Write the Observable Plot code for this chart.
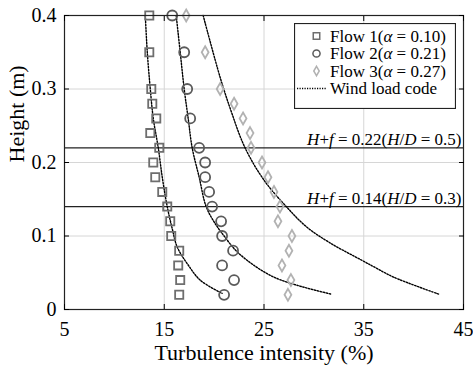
<!DOCTYPE html>
<html>
<head>
<meta charset="utf-8">
<script src="https://cdn.jsdelivr.net/npm/d3@7"></script>
<script src="https://cdn.jsdelivr.net/npm/@observablehq/plot@0.6"></script>
<style>
  body { margin: 0; background: #fff; }
  #chart { position: relative; width: 473px; height: 367px; }
  #legend { position: absolute; left: 294px; top: 23px; }
</style>
</head>
<body>
<div id="chart"></div>
<script>
// Axis ticks and grid positions
const xTicks = [5, 15, 25, 35, 45];
const yTicks = [0, 0.1, 0.2, 0.3, 0.4];
const xGrid = [15, 25, 35];
const yGrid = [0.1, 0.2, 0.3];

// Measured turbulence intensity profiles (%), by height (m)
const flow1Heights = [0.40, 0.35, 0.30, 0.28, 0.26, 0.24, 0.22, 0.20, 0.18, 0.16, 0.14, 0.12, 0.10, 0.08, 0.06, 0.04, 0.02];
const flow1Values  = [13.5, 13.5, 13.7, 13.8, 14.2, 13.6, 14.5, 13.9, 14.1, 14.8, 15.3, 15.6, 15.7, 16.5, 16.4, 16.6, 16.5];

const flow2Heights = [0.40, 0.35, 0.30, 0.26, 0.22, 0.20, 0.18, 0.16, 0.14, 0.12, 0.10, 0.08, 0.06, 0.04, 0.02];
const flow2Values  = [15.8, 17.0, 17.3, 17.6, 18.5, 19.1, 19.1, 19.5, 19.8, 20.7, 20.8, 21.9, 20.8, 22.0, 21.0];

const flow3Heights = [0.40, 0.35, 0.30, 0.28, 0.26, 0.24, 0.22, 0.20, 0.18, 0.16, 0.14, 0.12, 0.10, 0.08, 0.06, 0.04, 0.02];
const flow3Values  = [17.2, 19.1, 20.6, 22.0, 22.9, 23.6, 23.7, 24.8, 25.4, 26.0, 26.6, 26.4, 27.8, 27.5, 26.8, 27.7, 27.4];

// Wind load code profiles
const code1Heights = [0.40, 0.35, 0.30, 0.26, 0.22, 0.18, 0.14, 0.11, 0.085, 0.0625, 0.04, 0.022];
const code1Values  = [13.1, 13.3, 13.6, 13.9, 14.4, 14.8, 15.3, 15.8, 16.3, 17.3, 18.6, 20.8];

const code2Heights = [0.40, 0.35, 0.30, 0.26, 0.22, 0.18, 0.14, 0.117, 0.10, 0.08, 0.06, 0.044, 0.033, 0.021];
const code2Values  = [16.2, 16.6, 17.0, 17.4, 17.8, 18.5, 19.2, 20.1, 21.0, 22.2, 24.0, 26.0, 28.3, 31.7];

const code3Heights = [0.40, 0.316, 0.27, 0.22, 0.176, 0.139, 0.112, 0.09, 0.067, 0.056, 0.044, 0.021];
const code3Values  = [18.9, 20.6, 21.7, 23.1, 25.0, 27.3, 29.3, 31.7, 34.8, 36.3, 38.0, 42.5];

// Series labels
const seriesNames = ["Flow 1", "Flow 2", "Flow 3"];
const seriesAlphas = ["0.10", "0.21", "0.27"];
const codeName = "Wind load code";

// Reference levels H+f and their H/D ratios
const refLevels = [0.22, 0.14];
const refRatios = ["0.5", "0.3"];

const xLabel = "Turbulence intensity (%)";
const yLabel = "Height (m)";

const face = "Liberation Serif";
const colors = ["#6e6e6e", "#5a5a5a", "#b2b2b2"];
const symbols = ["square", "circle", "diamond"];
const radii = [4.6, 5.0, 3.6];
const dots = "1.5,1.5";

const toRows = (hs, vs, s) => hs.map((h, i) => ({h, v: vs[i], s}));
const flows = [
  toRows(flow1Heights, flow1Values, 0),
  toRows(flow2Heights, flow2Values, 1),
  toRows(flow3Heights, flow3Values, 2)
];
const codeRows = [
  ...toRows(code1Heights, code1Values, "c1"),
  ...toRows(code2Heights, code2Values, "c2"),
  ...toRows(code3Heights, code3Values, "c3")
];
const refRows = refLevels.map((h, i) => ({h, label: `H+f = ${h.toFixed(2)}(H/D = ${refRatios[i]})`}));

const plot = Plot.plot({
  width: 473,
  height: 367,
  marginLeft: 64,
  marginRight: 10,
  marginTop: 15,
  marginBottom: 58,
  style: {fontFamily: face, fontSize: "20px"},
  x: {domain: [5, 45]},
  y: {domain: [0, 0.4]},
  marks: [
    Plot.ruleX(xGrid, {stroke: "#d6d6d6", strokeWidth: 1}),
    Plot.ruleY(yGrid, {stroke: "#d6d6d6", strokeWidth: 1}),
    Plot.ruleY(refLevels, {stroke: "#222", strokeWidth: 1.2}),
    Plot.line(codeRows, {
      x: "v", y: "h", z: "s", stroke: "#000", strokeWidth: 1.4,
      strokeDasharray: dots, curve: "catmull-rom"
    }),
    ...flows.map((rows, i) => Plot.dot(rows, {
      x: "v", y: "h", symbol: () => symbols[i], r: radii[i],
      stroke: colors[i], strokeWidth: 1.8, fill: "none"
    })),
    Plot.text(refRows, {
      x: () => 45, y: "h", text: "label", textAnchor: "end", lineAnchor: "bottom",
      dx: -2, dy: -3, fontSize: 17, fontFamily: face
    }),
    Plot.frame({stroke: "#222", strokeWidth: 1.2}),
    Plot.axisX(xTicks, {anchor: "bottom", tickSize: -5, tickPadding: 17, tickFormat: d => String(d), label: null, fontFamily: face}),
    Plot.axisX(xTicks, {anchor: "top", tickSize: -5, tickFormat: () => "", label: null}),
    Plot.axisY(yTicks, {anchor: "left", tickSize: -5, tickPadding: 13, tickFormat: d => String(d), label: null, fontFamily: face}),
    Plot.axisY(yTicks, {anchor: "right", tickSize: -5, tickFormat: () => "", label: null}),
    Plot.text([xLabel], {frameAnchor: "bottom", text: d => d, dy: 43, lineAnchor: "middle", fontSize: 22, fontFamily: face}),
    Plot.text([yLabel], {frameAnchor: "left", text: d => d, dx: -48, rotate: -90, lineAnchor: "middle", fontSize: 22, fontFamily: face})
  ]
});

// Italicize the variable names in the reference-level labels
d3.select(plot).selectAll("text").each(function () {
  const t = this.textContent;
  if (!t.startsWith("H+f")) return;
  const sel = d3.select(this);
  sel.text(null);
  t.split(/([HfD])/).filter(p => p.length).forEach(p => {
    sel.append("tspan").attr("font-style", /^[HfD]$/.test(p) ? "italic" : null).text(p);
  });
});

const chart = document.getElementById("chart");
chart.appendChild(plot);

// Legend box inside the plot area
const lw = 161, lh = 85, rowH = 17.5, row0 = 13;
const legend = d3.create("svg")
  .attr("id", "legend")
  .attr("width", lw + 1)
  .attr("height", lh + 1)
  .attr("font-family", face)
  .attr("font-size", 17);
legend.append("rect")
  .attr("x", 0.5).attr("y", 0.5).attr("width", lw).attr("height", lh)
  .attr("fill", "#fff").attr("stroke", "#222").attr("stroke-width", 1.2);
const symbolTypes = [d3.symbolSquare, d3.symbolCircle, d3.symbolDiamond];
const legendSizes = [42, 40, 26];
seriesNames.forEach((name, i) => {
  const y = row0 + i * rowH;
  legend.append("path")
    .attr("d", d3.symbol(symbolTypes[i], legendSizes[i])())
    .attr("transform", `translate(22.5,${y})`)
    .attr("fill", "none").attr("stroke", colors[i]).attr("stroke-width", 1.5);
  const txt = legend.append("text").attr("x", 36).attr("y", y).attr("dy", "0.35em");
  txt.append("tspan").text(`${name}(`);
  txt.append("tspan").attr("font-style", "italic").text("α");
  txt.append("tspan").text(` = ${seriesAlphas[i]})`);
});
{
  const y = row0 + 3 * rowH;
  legend.append("line")
    .attr("x1", 3).attr("x2", 33).attr("y1", y).attr("y2", y)
    .attr("stroke", "#000").attr("stroke-width", 1.3).attr("stroke-dasharray", "1.2,1.3");
  legend.append("text").attr("x", 36).attr("y", y).attr("dy", "0.35em").text(codeName);
}
chart.appendChild(legend.node());
</script>
</body>
</html>
